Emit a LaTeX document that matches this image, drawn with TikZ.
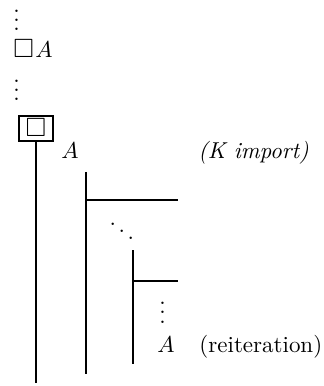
\documentclass[tikz,border=0pt]{standalone}
\usepackage{amssymb}
\newcommand{\myvdots}{\vbox{\baselineskip4pt\lineskiplimit0pt\hbox{.}\hbox{.}\hbox{.}}}
\begin{document}
\begin{tikzpicture}[x=0.435pt,y=-0.435pt,
  txt/.style={inner sep=0pt,anchor=base west},
  bar/.style={line width=0.8pt},
  frame/.style={draw,line width=0.55pt,inner sep=0pt,minimum width=14.8pt,minimum height=10.9pt}]
\useasboundingbox (0,0) rectangle (324,386);
% top part
\node[txt] (d1) at (13,31) {\myvdots};
\node[txt] (boxA) at (13,58) {$\scalebox{1.15}{$\Box$}\mkern1mu A$};
\node[txt] (d2) at (13,101) {\myvdots};
\node[frame] (bx) at (36,128.5) {\raisebox{1pt}{\scalebox{1.15}{$\Box$}}};
\coordinate (b1) at (36,383);
\draw[bar] (bx.south) -- (b1);
\node[txt] (A1) at (61,159) {$A$};
\node[txt] (kimp) at (198,159) {\textit{(K import)}};
% second subproof
\coordinate (t2) at (86,172);
\coordinate (c2) at (86,200);
\coordinate (h2) at (178,200);
\coordinate (b2) at (86,374);
\draw[bar] (t2) -- (b2);
\draw[bar] (c2) -- (h2);
\node[txt] (dd) at (108,242) {$\ddots$};
% third subproof
\coordinate (t3) at (133,250);
\coordinate (c3) at (133,281);
\coordinate (h3) at (178,281);
\coordinate (b3) at (133,364);
\draw[bar] (t3) -- (b3);
\draw[bar] (c3) -- (h3);
\node[txt] (d3) at (159,323) {\myvdots};
\node[txt] (A2) at (157,352) {$A$};
\node[txt] (reit) at (199,352) {(reiteration)};
\end{tikzpicture}
\end{document}
